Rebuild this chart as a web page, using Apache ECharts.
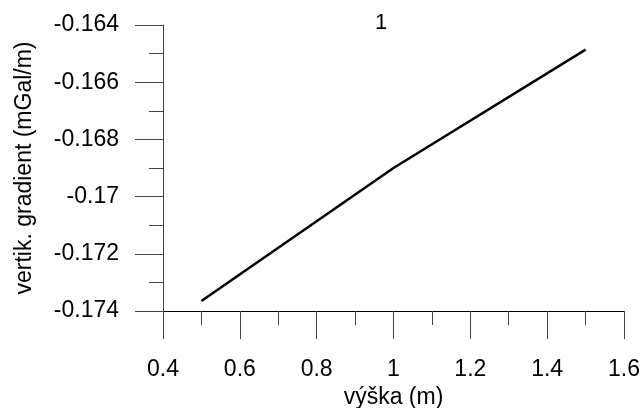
<!DOCTYPE html>
<html>
<head>
<meta charset="utf-8">
<script src="https://cdn.jsdelivr.net/npm/echarts@6/dist/echarts.min.js"></script>
<style>
  html, body { margin: 0; padding: 0; background: #fff; }
  #chart { width: 644px; height: 408px; }
</style>
</head>
<body>
<div id="chart"></div>
<script>
var heights = [0.5, 1.0, 1.5];
var gradients = [-0.17365, -0.16900, -0.16486];
var chartTitle = '1';
var xName = 'výška (m)';
var yName = 'vertik. gradient (mGal/m)';

var font = '"Liberation Sans", Arial, sans-serif';
var points = heights.map(function(h, i) { return [h, gradients[i]]; });

var myChart = echarts.init(document.getElementById('chart'));
myChart.setOption({
  animation: false,
  backgroundColor: '#fff',
  title: {
    text: chartTitle,
    left: 370,
    top: 7,
    textStyle: { fontFamily: font, fontSize: 22, fontWeight: 'normal', color: '#000' }
  },
  grid: { left: 163, right: 20, top: 25, bottom: 97, containLabel: false, outerBoundsMode: 'none' },
  xAxis: {
    type: 'value',
    min: 0.4,
    max: 1.6,
    interval: 0.2,
    name: xName,
    nameLocation: 'middle',
    nameGap: 64,
    nameTextStyle: { fontFamily: font, fontSize: 23, color: '#000' },
    axisLine: { show: true, onZero: false, lineStyle: { color: '#000', width: 1 } },
    axisTick: { show: true, inside: false, length: 28, lineStyle: { color: '#444' } },
    minorTick: { show: true, splitNumber: 2, length: 14, lineStyle: { color: '#444' } },
    splitLine: { show: false },
    axisLabel: {
      margin: 47,
      fontFamily: font,
      fontSize: 23,
      color: '#000',
      formatter: function(v) { return String(parseFloat(v.toFixed(2))); }
    }
  },
  yAxis: {
    type: 'value',
    min: -0.174,
    max: -0.164,
    interval: 0.002,
    name: yName,
    nameLocation: 'middle',
    nameGap: 127,
    nameTextStyle: { fontFamily: font, fontSize: 23, color: '#000' },
    axisLine: { show: true, onZero: false, lineStyle: { color: '#444', width: 1 } },
    axisTick: { show: true, inside: false, length: 28, lineStyle: { color: '#444' } },
    minorTick: { show: true, splitNumber: 2, length: 14, lineStyle: { color: '#444' } },
    splitLine: { show: false },
    axisLabel: {
      margin: 44,
      fontFamily: font,
      fontSize: 23,
      color: '#000',
      formatter: function(v) { return String(parseFloat(v.toFixed(3))); }
    }
  },
  series: [{
    type: 'line',
    data: points,
    showSymbol: false,
    symbol: 'none',
    lineStyle: { color: '#000', width: 2.5 }
  }]
});
</script>
</body>
</html>
